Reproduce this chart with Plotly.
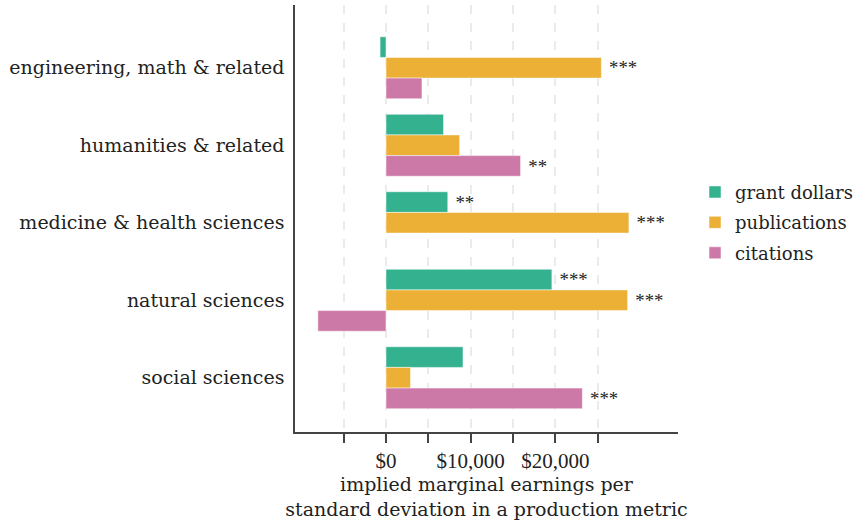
"""
Implied marginal earnings by field: grouped horizontal bar chart.
"""

import plotly.graph_objects as go

# data
fields = [
    "engineering, math & related",
    "humanities & related",
    "medicine & health sciences",
    "natural sciences",
    "social sciences",
]
grant_dollars = [-700, 6800, 7300, 19600, 9100]
publications = [25450, 8700, 28700, 28550, 2900]
citations = [4250, 15900, None, -8050, 23200]

grant_stars = ["", "", "**", "***", ""]
publication_stars = ["***", "", "***", "***", ""]
citation_stars = ["", "**", "", "", "***"]

tick_values = [-5000, 0, 5000, 10000, 15000, 20000, 25000]
tick_labels = ["", "$0", "", "$10,000", "", "$20,000", ""]

COLORS = {
    "grant": "#34B18F",
    "publications": "#EBB035",
    "citations": "#CC79A7",
}
FONT = "DejaVu Serif"
NUM_FONT = "Liberation Serif"


def add_series(fig, name, values, stars, color):
    fig.add_trace(
        go.Bar(
            name=name,
            legendgroup=name,
            y=fields,
            x=values,
            orientation="h",
            marker=dict(color=color, line=dict(color="rgba(255,255,255,0.5)", width=1)),
            text=[" " + s if s else "" for s in stars],
            textposition="outside",
            textfont=dict(family=NUM_FONT, size=20, color="#222"),
            cliponaxis=False,
        )
    )


fig = go.Figure()
add_series(fig, "grant dollars", grant_dollars, grant_stars, COLORS["grant"])
add_series(fig, "publications", publications, publication_stars, COLORS["publications"])
add_series(fig, "citations", citations, citation_stars, COLORS["citations"])

# plot area spans x 295..678 px; the legend sits in the right-hand part of the paper
fig.update_layout(
    width=860,
    height=523,
    margin=dict(l=295, r=0, t=5, b=91),
    barmode="group",
    bargap=0.2,
    bargroupgap=0,
    plot_bgcolor="white",
    paper_bgcolor="white",
    font=dict(family=FONT, size=19, color="#222"),
    legend=dict(
        x=0.708,
        y=0.49,
        xanchor="left",
        yanchor="middle",
        font=dict(family=FONT, size=18),
        itemwidth=30,
        tracegroupgap=4,
    ),
    uniformtext=dict(mode="show", minsize=10),
)

fig.update_xaxes(
    domain=[0, 383 / 565],
    range=[-10750, 34500],
    tickvals=tick_values,
    ticktext=tick_labels,
    ticks="outside",
    ticklen=9,
    tickwidth=1.5,
    tickcolor="#444",
    showline=True,
    linecolor="#444",
    linewidth=1.5,
    showgrid=True,
    gridcolor="#ebebeb",
    gridwidth=1.5,
    griddash="dash",
    zeroline=False,
    automargin=False,
    tickfont=dict(family=NUM_FONT, size=21),
    title=dict(
        text="implied marginal earnings per<br>standard deviation in a production metric",
        font=dict(family=FONT, size=19),
        standoff=6,
    ),
)

fig.update_yaxes(
    range=[4.7, -0.81],
    showline=True,
    linecolor="#444",
    linewidth=1.5,
    showgrid=False,
    ticks="",
    ticklabelstandoff=5,
    automargin=False,
    tickfont=dict(family=FONT, size=19),
)

# the reference has no page margin around the figure
fig.write_html(
    "out.html",
    config={"displayModeBar": False},
    post_script="document.body.style.margin='0';",
)
